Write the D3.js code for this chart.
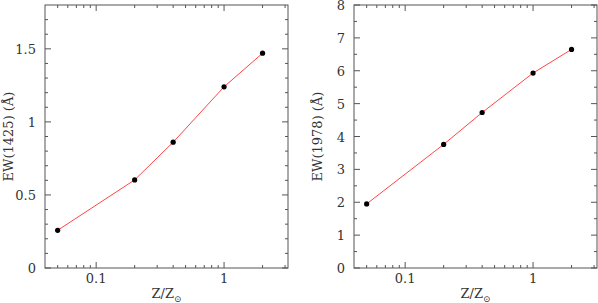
<!DOCTYPE html>
<html>
<head>
<meta charset="utf-8">
<script src="https://cdn.jsdelivr.net/npm/d3@7"></script>
<style>
  body { margin: 0; background: #fff; }
  text { font-family: "DejaVu Serif", "Liberation Serif", serif; fill: #333; }
</style>
</head>
<body>
<div id="chart"></div>
<script>
const width = 598;
const height = 303;

// metallicity (Z/Zsun)
const metallicity = [0.05, 0.2, 0.4, 1, 2];
// equivalent widths
const ew1425 = [0.258, 0.603, 0.861, 1.24, 1.47];
const ew1978 = [1.95, 3.76, 4.73, 5.93, 6.65];

const xMajor = [0.1, 1];
const xMinor = [0.05, 0.06, 0.07, 0.08, 0.09, 0.2, 0.3, 0.4, 0.5, 0.6, 0.7, 0.8, 0.9, 2, 3];
const xTickLabels = ["0.1", "1"];

const leftYMajor = [0, 0.5, 1, 1.5];
const leftYLabels = ["0", "0.5", "1", "1.5"];
const rightYMajor = [0, 1, 2, 3, 4, 5, 6, 7, 8];
const rightYLabels = ["0", "1", "2", "3", "4", "5", "6", "7", "8"];

const svg = d3.select("#chart")
    .append("svg")
    .attr("width", width)
    .attr("height", height);

const frameColor = "#555";

function drawPanel(opts) {
    const x = d3.scaleLog().domain([Math.pow(10, -1.4), Math.pow(10, 0.5)]).range([opts.left, opts.right]);
    const y = d3.scaleLinear().domain(opts.yDomain).range([opts.bottom, opts.top]);
    const g = svg.append("g");

    g.append("rect")
        .attr("x", opts.left)
        .attr("y", opts.top)
        .attr("width", opts.right - opts.left)
        .attr("height", opts.bottom - opts.top)
        .attr("fill", "none")
        .attr("stroke", frameColor)
        .attr("stroke-width", 1);

    const bigTick = 6, smallTick = 3;

    // x ticks, bottom and top, pointing inward
    const xt = xMajor.map(v => ({v, len: bigTick})).concat(xMinor.map(v => ({v, len: smallTick})));
    xt.forEach(t => {
        const px = x(t.v);
        g.append("line").attr("x1", px).attr("x2", px)
            .attr("y1", opts.bottom).attr("y2", opts.bottom - t.len)
            .attr("stroke", frameColor);
        g.append("line").attr("x1", px).attr("x2", px)
            .attr("y1", opts.top).attr("y2", opts.top + t.len)
            .attr("stroke", frameColor);
    });

    // y ticks, left and right
    const yt = opts.yMajor.map(v => ({v, len: bigTick})).concat(opts.yMinor.map(v => ({v, len: smallTick})));
    yt.forEach(t => {
        const py = y(t.v);
        g.append("line").attr("x1", opts.left).attr("x2", opts.left + t.len)
            .attr("y1", py).attr("y2", py)
            .attr("stroke", frameColor);
        g.append("line").attr("x1", opts.right).attr("x2", opts.right - t.len)
            .attr("y1", py).attr("y2", py)
            .attr("stroke", frameColor);
    });

    // tick labels
    xMajor.forEach((v, i) => {
        g.append("text")
            .attr("x", x(v))
            .attr("y", opts.bottom + 15)
            .attr("text-anchor", "middle")
            .attr("font-size", 13)
            .text(xTickLabels[i]);
    });
    opts.yMajor.forEach((v, i) => {
        g.append("text")
            .attr("x", opts.left - 9)
            .attr("y", y(v) + 5)
            .attr("text-anchor", "end")
            .attr("font-size", 13)
            .text(opts.yLabels[i]);
    });

    // axis titles
    const xl = g.append("text")
        .attr("x", (opts.left + opts.right) / 2)
        .attr("y", opts.bottom + 30)
        .attr("text-anchor", "middle")
        .attr("font-size", 13);
    xl.append("tspan").text("Z/Z");
    xl.append("tspan").attr("dy", 4).attr("font-size", 9).text("\u2299");

    g.append("text")
        .attr("transform", `translate(${opts.left - 32},${(opts.top + opts.bottom) / 2}) rotate(-90)`)
        .attr("text-anchor", "middle")
        .attr("font-size", 13)
        .text(opts.yTitle);

    // data line and points
    const pts = metallicity.map((m, i) => [m, opts.values[i]]);
    g.append("path")
        .datum(pts)
        .attr("d", d3.line().x(d => x(d[0])).y(d => y(d[1])))
        .attr("fill", "none")
        .attr("stroke", "#ff4545")
        .attr("stroke-width", 1);

    g.selectAll("circle.pt")
        .data(pts)
        .enter()
        .append("circle")
        .attr("class", "pt")
        .attr("cx", d => x(d[0]))
        .attr("cy", d => y(d[1]))
        .attr("r", 2.6)
        .attr("fill", "#000");
}

drawPanel({
    left: 45, right: 288, top: 5, bottom: 268,
    yDomain: [0, 1.8],
    yMajor: leftYMajor,
    yMinor: d3.range(1, 18).map(i => i / 10).filter(v => Math.abs(v * 2 - Math.round(v * 2)) > 1e-6),
    yLabels: leftYLabels,
    yTitle: "EW(1425) (\u00C5)",
    values: ew1425
});

drawPanel({
    left: 354, right: 597, top: 5, bottom: 268,
    yDomain: [0, 8],
    yMajor: rightYMajor,
    yMinor: d3.range(0, 8).map(i => i + 0.5),
    yLabels: rightYLabels,
    yTitle: "EW(1978) (\u00C5)",
    values: ew1978
});
</script>
</body>
</html>
